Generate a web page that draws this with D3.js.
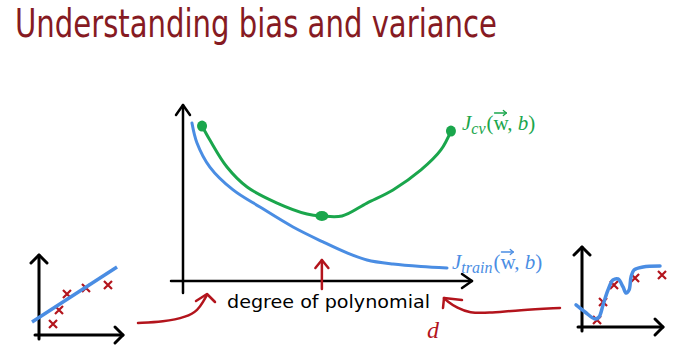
<!DOCTYPE html>
<html>
<head>
<meta charset="utf-8">
<script src="https://cdn.jsdelivr.net/npm/d3@7"></script>
<style>
  html, body { margin: 0; padding: 0; background: #fff; }
</style>
</head>
<body>
<svg width="684" height="362"></svg>
<script>
// main chart: degree of polynomial vs cost
const trainDegree = [0.32, 0.5, 0.96, 1.79, 2.75, 3.93, 5.0, 5.86, 6.57, 7.5, 8.5, 9.43];
const trainCost   = [8.78, 7.67, 6.33, 5.06, 4.11, 3.0, 2.17, 1.56, 1.17, 0.94, 0.8, 0.72];
const cvDegree = [0.68, 0.96, 1.57, 2.29, 3.36, 4.43, 4.96, 5.68, 6.57, 7.5, 8.5, 9.21, 9.57];
const cvCost   = [8.61, 7.83, 6.33, 5.22, 4.33, 3.72, 3.61, 3.61, 4.33, 5.06, 6.17, 7.28, 8.33];
const cvDots = [[0.68, 8.61], [4.96, 3.61], [9.57, 8.33]];

// small plots: underfit line and overfit wiggle
const pointsX = [1.69, 2.41, 3.37, 5.66, 8.31];
const underfitY = [1.53, 3.47, 5.69, 6.53, 6.94];
const lineX = [-0.84, 9.4];
const lineY = [1.81, 9.44];
const overX = [1.88, 2.63, 4.0, 6.63, 10.0];
const overY = [0.97, 3.47, 5.83, 6.81, 7.22];
const wiggleX = [-0.75, 0.38, 1.63, 2.13, 2.63, 3.25, 3.88, 4.5, 5.13, 5.5, 5.88, 6.13, 6.5, 7.63, 9.75];
const wiggleY = [3.06, 2.08, 1.11, 1.39, 3.06, 5.14, 6.53, 6.67, 5.56, 4.72, 5.14, 6.94, 7.92, 8.33, 8.47];

const titleText = "Understanding bias and variance";
const xLabel = "degree of polynomial";

const dark = "#861a22", red = "#b3141c", green = "#1aa64c", blue = "#4a8de3";
const svg = d3.select("svg");

svg.append("text")
    .attr("x", 15).attr("y", 37)
    .attr("font-family", "DejaVu Sans Condensed, DejaVu Sans")
    .attr("font-size", 39)
    .attr("fill", dark)
    .attr("textLength", 482)
    .attr("lengthAdjust", "spacingAndGlyphs")
    .text(titleText);

const x = d3.scaleLinear().domain([0, 10]).range([183, 463]);
const y = d3.scaleLinear().domain([0, 10]).range([281, 101]);

function chevron(g, pts, color, w) {
    g.append("path")
        .attr("d", d3.line()(pts))
        .attr("fill", "none").attr("stroke", color)
        .attr("stroke-width", w)
        .attr("stroke-linecap", "round").attr("stroke-linejoin", "round");
}

// main axes
const axes = svg.append("g");
chevron(axes, [[x(0), 293], [x(0), 105]], "#000", 2.5);
chevron(axes, [[x(0) - 7, 115], [x(0), 105], [x(0) + 7, 115]], "#000", 2.5);
chevron(axes, [[171, y(0)], [472, y(0)]], "#000", 2.5);
chevron(axes, [[462, y(0) - 7], [472, y(0)], [462, y(0) + 7]], "#000", 2.5);

const curve = d3.line().curve(d3.curveCatmullRom);
svg.append("path")
    .attr("d", curve(trainDegree.map((d, i) => [x(d), y(trainCost[i])])))
    .attr("fill", "none").attr("stroke", blue).attr("stroke-width", 3)
    .attr("stroke-linecap", "round");
svg.append("path")
    .attr("d", curve(cvDegree.map((d, i) => [x(d), y(cvCost[i])])))
    .attr("fill", "none").attr("stroke", green).attr("stroke-width", 3)
    .attr("stroke-linecap", "round");
svg.selectAll(".dot").data(cvDots).join("ellipse")
    .attr("cx", d => x(d[0])).attr("cy", d => y(d[1]))
    .attr("rx", (d, i) => i === 1 ? 6.5 : 5).attr("ry", (d, i) => i === 1 ? 5 : 5.5)
    .attr("fill", green);

// middle red arrow
const mid = x(cvDots[1][0]);
chevron(svg, [[mid, 289], [mid, 260]], red, 2.5);
chevron(svg, [[mid - 6.5, 268], [mid, 260], [mid + 6.5, 268]], red, 2.5);

svg.append("text")
    .attr("x", 227).attr("y", 308)
    .attr("font-family", "DejaVu Sans")
    .attr("font-size", 18)
    .attr("fill", "#000")
    .attr("textLength", 203)
    .attr("lengthAdjust", "spacingAndGlyphs")
    .text(xLabel);

function costLabel(x0, y0, sub, color) {
    const t = svg.append("text")
        .attr("x", x0).attr("y", y0)
        .attr("font-family", "Liberation Serif, DejaVu Serif")
        .attr("font-size", 21)
        .attr("fill", color);
    t.append("tspan").attr("font-style", "italic").text("J");
    t.append("tspan").attr("font-style", "italic").attr("font-size", 16).attr("dy", 4).text(sub);
    t.append("tspan").attr("dy", -4).attr("dx", 1).text("(");
    t.append("tspan").text("w");
    t.append("tspan").text(", ");
    t.append("tspan").attr("font-style", "italic").text("b");
    t.append("tspan").text(")");
    const idx = 1 + sub.length + 1;
    const box = t.node().getExtentOfChar(idx);
    const ay = box.y + 2;
    chevron(svg, [[box.x + 1, ay], [box.x + box.width - 1, ay]], color, 1.3);
    chevron(svg, [[box.x + box.width - 4, ay - 2.5], [box.x + box.width - 1, ay], [box.x + box.width - 4, ay + 2.5]], color, 1.3);
}
costLabel(462, 130, "cv", green);
costLabel(452, 269, "train", blue);

// hand drawn arrows toward the axis ends
const hand = d3.line().curve(d3.curveBasis);
svg.append("path")
    .attr("d", hand([[138, 323], [163, 322], [187, 317], [198, 310], [203, 302], [207, 295]]))
    .attr("fill", "none").attr("stroke", red).attr("stroke-width", 2.5).attr("stroke-linecap", "round");
chevron(svg, [[196, 301], [207, 294], [215, 302]], red, 2.5);
svg.append("path")
    .attr("d", hand([[560, 308], [520, 310], [487, 313], [470, 313], [457, 308], [447, 301], [444, 298]]))
    .attr("fill", "none").attr("stroke", red).attr("stroke-width", 2.5).attr("stroke-linecap", "round");
chevron(svg, [[462, 300], [444, 298], [443, 308]], red, 2.5);

svg.append("text")
    .attr("x", 427).attr("y", 338)
    .attr("font-family", "Liberation Serif, DejaVu Serif")
    .attr("font-style", "italic")
    .attr("font-size", 24)
    .attr("fill", red)
    .text("d");

// little example plots
function smallPlot(x0, x1, y0, y1, drawFit, px, py) {
    const sx = d3.scaleLinear().domain([0, 10]).range([x0, x1]);
    const sy = d3.scaleLinear().domain([0, 10]).range([y0, y1]);
    const g = svg.append("g");
    chevron(g, [[sx(0), y0 + 4], [sx(0), y1 - 8]], "#000", 3);
    chevron(g, [[sx(0) - 8, y1], [sx(0), y1 - 8], [sx(0) + 8, y1]], "#000", 3);
    chevron(g, [[sx(0) - 4, y0], [x1 + 1, y0]], "#000", 3);
    chevron(g, [[x1 - 7, y0 - 8], [x1 + 1, y0], [x1 - 7, y0 + 8]], "#000", 3);
    g.selectAll(".pt").data(px).join("path")
        .attr("d", (d, i) => {
            const cx = sx(d), cy = sy(py[i]), r = 4;
            return `M${cx - r},${cy - r}L${cx + r},${cy + r}M${cx - r},${cy + r}L${cx + r},${cy - r}`;
        })
        .attr("stroke", red).attr("stroke-width", 2.2).attr("fill", "none");
    drawFit(g, sx, sy);
}

smallPlot(39, 122, 335, 263, (g, sx, sy) => {
    g.append("path")
        .attr("d", d3.line()(lineX.map((d, i) => [sx(d), sy(lineY[i])])))
        .attr("stroke", blue).attr("stroke-width", 3.5).attr("fill", "none");
}, pointsX, underfitY);

smallPlot(582, 662, 327, 255, (g, sx, sy) => {
    g.append("path")
        .attr("d", curve(wiggleX.map((d, i) => [sx(d), sy(wiggleY[i])])))
        .attr("stroke", blue).attr("stroke-width", 3.5).attr("fill", "none")
        .attr("stroke-linecap", "round");
}, overX, overY);
</script>
</body>
</html>
